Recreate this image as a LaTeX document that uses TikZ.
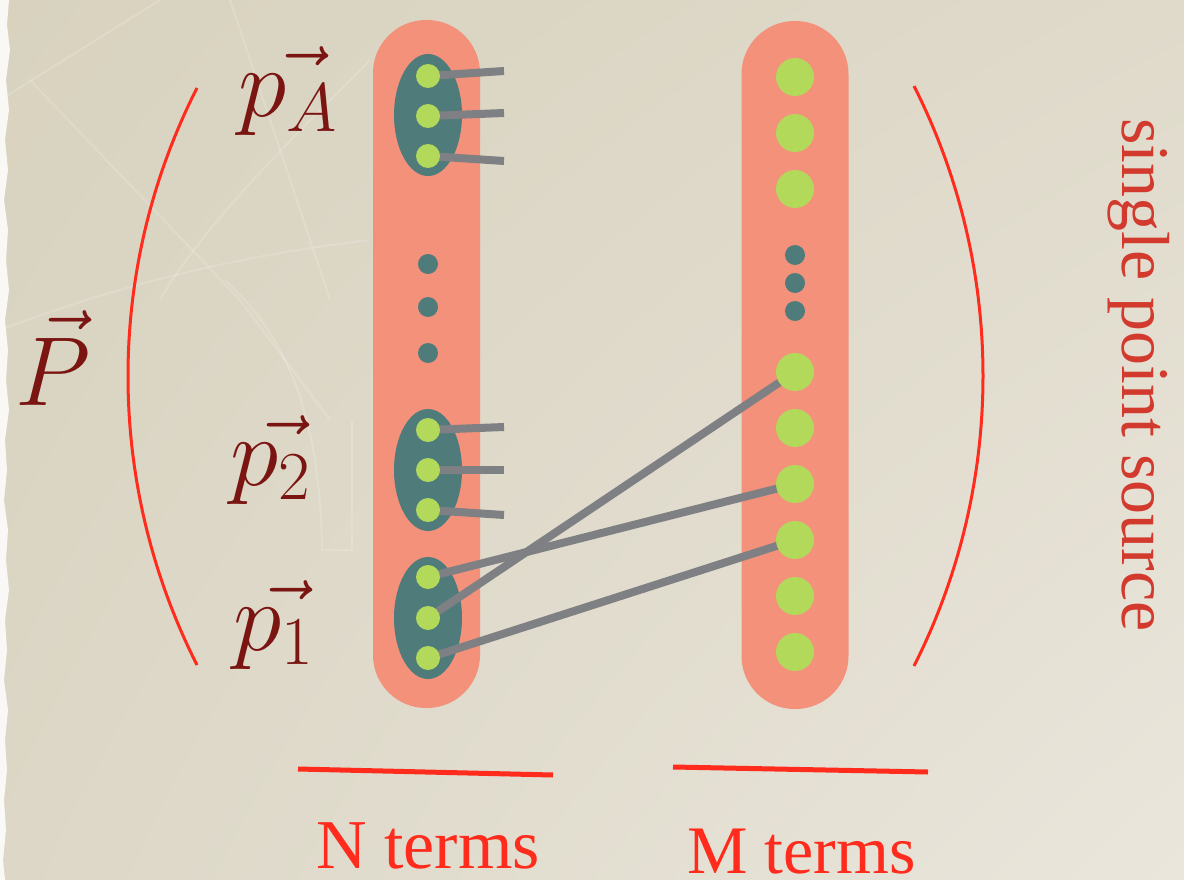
\RequirePackage{fix-cm}
\documentclass[tikz,border=0pt]{standalone}
\usepackage{fontspec}
\newfontfamily\tnr{Liberation Serif}
\usetikzlibrary{shapes.geometric,shadings}
\definecolor{cSalmon}{HTML}{F3917B}
\definecolor{cTeal}{HTML}{4F7B7B}
\definecolor{cGreen}{HTML}{B2D95A}
\definecolor{cGray}{HTML}{7E8084}
\definecolor{cMath}{HTML}{7A1512}
\definecolor{cRed}{HTML}{FF2B1C}
\definecolor{cVert}{HTML}{D23A2E}
\definecolor{cBgA}{HTML}{D8D2BF}
\definecolor{cBgB}{HTML}{DFDACA}
\definecolor{cBgC}{HTML}{DCD7C6}
\definecolor{cBgD}{HTML}{EAE6DC}
\newcommand\shiftvec[3]{\rlap{\hspace{#1}$\vec{\phantom{#2}}$}$#3$}
\pgfdeclarelayer{back}
\pgfdeclarelayer{mid}
\pgfsetlayers{back,mid,main}
\begin{document}
\begin{tikzpicture}[x=1pt,y=-1pt,
  pill/.style={fill=cSalmon, rounded corners=53pt, inner sep=0pt, minimum width=107pt},
  grp/.style={ellipse, fill=cTeal, minimum width=68pt, minimum height=122pt, inner sep=0pt},
  sdot/.style={circle, fill=cGreen, minimum size=24pt, inner sep=0pt},
  bdot/.style={circle, fill=cGreen, minimum size=38pt, inner sep=0pt},
  ddot/.style={circle, fill=cTeal, minimum size=20pt, inner sep=0pt},
  wire/.style={draw=cGray, line width=8pt},
  paren/.style={draw=cRed, line width=3pt},
  uline/.style={draw=cRed, line width=5pt},
  mathlab/.style={text=cMath, inner sep=0pt, anchor=base west, font=\fontsize{98}{98}\selectfont},
  redlab/.style={text=cRed, inner sep=0pt, anchor=base west},
  vlab/.style={text=cVert, inner sep=0pt, font=\tnr\fontsize{68}{68}\selectfont},
  faint/.style={draw=white, opacity=0.16, line width=2pt}]
\useasboundingbox (0,0) rectangle (1184,880);
\begin{pgfonlayer}{back}
\shade[upper left=cBgA, upper right=cBgB, lower left=cBgC, lower right=cBgD] (0,0) rectangle (1184,880);
\fill[white, opacity=0.85] (0,0) -- (9,0) -- (7,25) -- (10,50) -- (6,80) -- (9,110) -- (5,140) -- (8,170) -- (4,200) -- (8,230) -- (6,260) -- (9,290) -- (5,320) -- (8,350) -- (6,380) -- (9,410) -- (5,440) -- (7,470) -- (4,500) -- (8,530) -- (6,560) -- (9,590) -- (5,620) -- (7,650) -- (4,680) -- (8,710) -- (5,740) -- (7,770) -- (4,800) -- (6,830) -- (3,860) -- (5,880) -- (0,880) -- cycle;
\draw[faint] (0,100) -- (160,0);
\draw[faint] (30,80) -- (240,300) -- (330,420);
\draw[faint] (230,0) -- (330,300);
\draw[faint] (370,60) .. controls (280,150) and (200,230) .. (160,300);
\draw[faint] (0,330) .. controls (80,300) and (200,260) .. (370,240);
\draw[faint] (225,280) .. controls (290,340) and (320,420) .. (322,550) -- (352,550) -- (352,420);
% parentheses
\draw[paren] (197,88) .. controls (105,269) and (105,483) .. (197,665);
\draw[paren] (914,86) .. controls (1006,268) and (1006,484) .. (914,666);
% pills
\node[pill, minimum height=688pt] (lpill) at (426.5,364) {};
\node[pill, minimum height=688pt] (rpill) at (795,365) {};
% groups
\node[grp] (gA) at (428,115) {};
\node[grp] (g2) at (428,470) {};
\node[grp] (g1) at (428,618) {};
\end{pgfonlayer}
% left dots
\node[sdot] (a1) at (428,76) {};
\node[sdot] (a2) at (428,116) {};
\node[sdot] (a3) at (428,156) {};
\node[sdot] (b1) at (428,430) {};
\node[sdot] (b2) at (428,470) {};
\node[sdot] (b3) at (428,510) {};
\node[sdot] (c1) at (428,577) {};
\node[sdot] (c2) at (428,618) {};
\node[sdot] (c3) at (428,658) {};
\node[ddot] (ld1) at (428,264) {};
\node[ddot] (ld2) at (428,307) {};
\node[ddot] (ld3) at (428,353) {};
% right dots
\node[bdot] (r1) at (795,77) {};
\node[bdot] (r2) at (795,133) {};
\node[bdot] (r3) at (795,189) {};
\node[ddot] (rd1) at (795,255) {};
\node[ddot] (rd2) at (795,283) {};
\node[ddot] (rd3) at (795,311) {};
\node[bdot] (r4) at (795,372) {};
\node[bdot] (r5) at (795,428) {};
\node[bdot] (r6) at (795,484) {};
\node[bdot] (r7) at (795,540) {};
\node[bdot] (r8) at (795,596) {};
\node[bdot] (r9) at (795,652) {};
% wire ends
\coordinate (ea1) at (504,71);
\coordinate (ea2) at (504,113);
\coordinate (ea3) at (504,161);
\coordinate (eb1) at (504,427);
\coordinate (eb2) at (504,470);
\coordinate (eb3) at (504,515);
\begin{pgfonlayer}{mid}
\draw[wire] (a1.center) -- (ea1);
\draw[wire] (a2.center) -- (ea2);
\draw[wire] (a3.center) -- (ea3);
\draw[wire] (b1.center) -- (eb1);
\draw[wire] (b2.center) -- (eb2);
\draw[wire] (b3.center) -- (eb3);
\draw[wire] (c1.center) -- (r6.center);
\draw[wire] (c2.center) -- (r4.center);
\draw[wire] (c3.center) -- (r7.center);
\end{pgfonlayer}
% labels
\node[mathlab] (lP) at (15,405) {\shiftvec{0.1em}{P}{P}};
\node[mathlab] (lpA) at (238,117) {\shiftvec{0.39em}{p}{p_A}};
\node[mathlab] (lp2) at (230,485) {\shiftvec{0.27em}{p}{p_2}};
\node[mathlab] (lp1) at (233,650) {\shiftvec{0.27em}{p}{p_1}};
% underlines and bottom labels
\coordinate (u1a) at (298,769);
\coordinate (u1b) at (553,775);
\coordinate (u2a) at (673,767);
\coordinate (u2b) at (928,772);
\draw[uline] (u1a) -- (u1b);
\draw[uline] (u2a) -- (u2b);
\node[redlab, font=\tnr\fontsize{70}{70}\selectfont] (nterms) at (316,868) {N terms};
\node[redlab, font=\tnr\fontsize{68}{68}\selectfont] (mterms) at (687,873) {M terms};
\node[vlab, rotate=-90, anchor=base] (sps) at (1122,375) {single point source};
\end{tikzpicture}
\end{document}
